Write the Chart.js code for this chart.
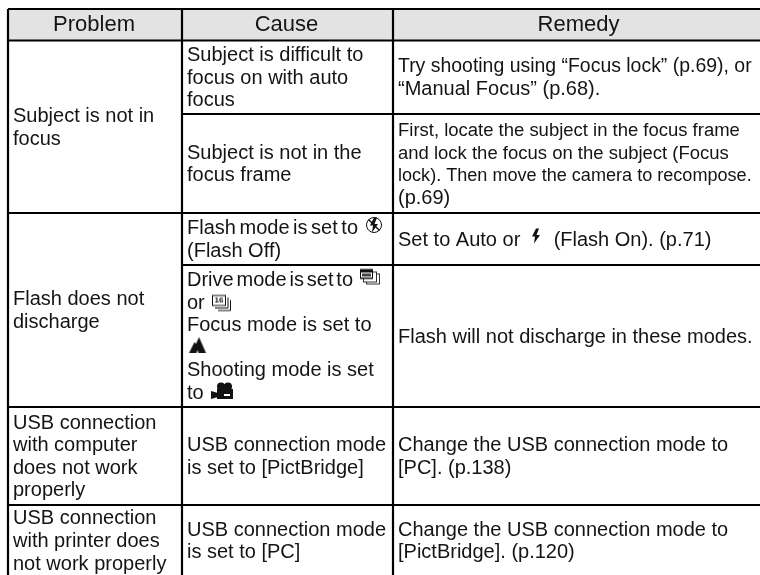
<!DOCTYPE html>
<html>
<head>
<meta charset="utf-8">
<style>
  html, body { margin: 0; padding: 0; background: #fff; }
  #wrap { width: 760px; height: 575px; }
</style>
<script src="https://cdn.jsdelivr.net/npm/chart.js@4/dist/chart.umd.js"></script>
</head>
<body>
<div id="wrap"><canvas id="tableChart"></canvas></div>
<script>
const columnNames = ["Problem", "Cause", "Remedy"];
const columnCentres = [94, 286.5, 578.5];
const colEdges = [8, 182, 393, 760];
const rowEdges = [9, 40.5, 114, 213, 265, 407, 505, 576];

// col, first row, last row (exclusive), lines
const problemCells = [
    [0, 1, 3, ["Subject is not in", "focus"]],
    [0, 3, 5, ["Flash does not", "discharge"]],
    [0, 5, 6, ["USB connection", "with computer", "does not work", "properly"]],
    [0, 6, 7, ["USB connection", "with printer does", "not work properly"]]
];
const causeCells = [
    [1, 1, 2, ["Subject is difficult to", "focus on with auto", "focus"]],
    [1, 2, 3, ["Subject is not in the", "focus frame"]],
    [1, 3, 4, ["Flash mode is set to", "(Flash Off)"]],
    [1, 4, 5, ["Drive mode is set to", "or", "Focus mode is set to", " ", "Shooting mode is set", "to"]],
    [1, 5, 6, ["USB connection mode", "is set to [PictBridge]"]],
    [1, 6, 7, ["USB connection mode", "is set to [PC]"]]
];
const remedyCells = [
    [2, 1, 2, ["Try shooting using “Focus lock” (p.69), or", "“Manual Focus” (p.68)."]],
    [2, 2, 3, ["First, locate the subject in the focus frame", "and lock the focus on the subject (Focus", "lock). Then move the camera to recompose.", "(p.69)"]],
    [2, 3, 4, ["Set to Auto or      (Flash On). (p.71)"]],
    [2, 4, 5, ["Flash will not discharge in these modes."]],
    [2, 5, 6, ["Change the USB connection mode to", "[PC]. (p.138)"]],
    [2, 6, 7, ["Change the USB connection mode to", "[PictBridge]. (p.120)"]]
];

// lines set smaller in the original, with their measured width
const smallLines = {
    "Try shooting using “Focus lock” (p.69), or": 354,
    "First, locate the subject in the focus frame": 342,
    "and lock the focus on the subject (Focus": 331,
    "lock). Then move the camera to recompose.": 354
};
// lines with squeezed word gaps, same idea
const squeezedLines = {
    "Flash mode is set to": 171,
    "Drive mode is set to": 166
};

// horizontal rules: row edge index, first column, last column (exclusive)
const hRules = [[0, 0, 3], [1, 0, 3], [2, 1, 3], [3, 0, 3], [4, 1, 3], [5, 0, 3], [6, 0, 3]];

// inline camera icons
const iconNames = ["flashOff", "drive", "drive16", "macro", "movie", "flashOn"];
const iconX = [374, 370, 222, 197.5, 222, 536];
const iconY = [225, 276.5, 303.5, 345, 391, 236];

function makeIcon(name) {
    const c = document.createElement("canvas");
    c.width = 28; c.height = 24;
    const g = c.getContext("2d");
    g.translate(14, 12);
    g.fillStyle = g.strokeStyle = "#111";
    g.lineWidth = 1;
    const bolt = () => {
        g.beginPath();
        g.moveTo(0, -7.5); g.lineTo(-4, 0.5); g.lineTo(-1, 0.5); g.lineTo(-2, 7.5);
        g.lineTo(4, -1); g.lineTo(0.5, -1); g.lineTo(3, -7.5);
        g.closePath(); g.fill();
    };
    if (name === "flashOn") {
        bolt();
    } else if (name === "flashOff") {
        g.beginPath(); g.arc(0, 0, 7.5, 0, Math.PI * 2); g.stroke();
        bolt();
        g.lineWidth = 1.4;
        g.beginPath(); g.moveTo(-5.5, -5.5); g.lineTo(5.5, 5.5); g.stroke();
    } else if (name === "drive") {
        g.strokeStyle = "#333";
        g.fillStyle = "#fff";
        g.fillRect(-3.5, -2.5, 13, 10); g.strokeRect(-3.5, -2.5, 13, 10);
        g.fillRect(-6.5, -4.5, 13, 10); g.strokeRect(-6.5, -4.5, 13, 10);
        g.fillStyle = "#111";
        g.fillRect(-10, -7.5, 13, 10);
        g.fillStyle = "#fff";
        g.fillRect(-9, -4, 11, 5);
        g.fillStyle = "#444";
        g.fillRect(-8, -3, 9, 3);
    } else if (name === "drive16") {
        g.strokeRect(-9.5, -8, 13, 10);
        g.beginPath();
        g.moveTo(6, -6); g.lineTo(6, 4.5); g.lineTo(-7, 4.5);
        g.moveTo(8.5, -3.5); g.lineTo(8.5, 7); g.lineTo(-4, 7);
        g.stroke();
        g.font = "bold 8px 'Liberation Sans'";
        g.textAlign = "center"; g.textBaseline = "middle";
        g.fillText("16", -3, -3);
    } else if (name === "macro") {
        g.beginPath();
        g.moveTo(-8.5, 8); g.lineTo(-3, -3); g.lineTo(-1.5, -1); g.lineTo(1.5, -8);
        g.lineTo(8.5, 8); g.lineTo(1, 8); g.lineTo(0, 5); g.lineTo(-1, 8); g.closePath(); g.fill();
    } else if (name === "movie") {
        g.beginPath(); g.arc(-1, -4.5, 4, 0, Math.PI * 2); g.arc(6, -4.5, 4, 0, Math.PI * 2); g.fill();
        g.fillRect(-5, -2, 16, 10);
        g.beginPath(); g.moveTo(-4, 2); g.lineTo(-11, 0); g.lineTo(-11, 8); g.lineTo(-4, 6); g.fill();
        g.fillStyle = "#fff";
        g.fillRect(2, 3, 6, 2);
    }
    return c;
}

// black rules as one broken line
const rulePoints = [];
hRules.forEach(([r, a, b]) => {
    rulePoints.push({ x: colEdges[a], y: rowEdges[r] }, { x: colEdges[b], y: rowEdges[r] }, { x: null, y: null });
});
colEdges.slice(0, 3).forEach(x => {
    rulePoints.push({ x: x, y: rowEdges[0] }, { x: x, y: rowEdges[7] }, { x: null, y: null });
});

const cellTextPlugin = {
    id: "cellText",
    afterDatasetsDraw(chart) {
        const { ctx, scales: { x, y } } = chart;
        ctx.save();
        ctx.fillStyle = "#141414";
        ctx.textBaseline = "alphabetic";

        ctx.font = "22px 'Liberation Sans'";
        ctx.textAlign = "center";
        columnNames.forEach((name, i) => {
            ctx.fillText(name, x.getPixelForValue(columnCentres[i]), y.getPixelForValue(31));
        });

        ctx.textAlign = "left";
        [...problemCells, ...causeCells, ...remedyCells].forEach(([col, r0, r1, lines]) => {
            const mid = (rowEdges[r0] + rowEdges[r1]) / 2;
            const top = mid - (lines.length - 1) * 22.6 / 2 + 6.5;
            lines.forEach((line, i) => {
                ctx.font = "20px 'Liberation Sans'";
                ctx.wordSpacing = "0px";
                if (smallLines[line]) {
                    const size = 20 * smallLines[line] / ctx.measureText(line).width;
                    ctx.font = size.toFixed(2) + "px 'Liberation Sans'";
                }
                if (squeezedLines[line]) {
                    const gaps = line.split(" ").length - 1;
                    const extra = (squeezedLines[line] - ctx.measureText(line).width) / gaps;
                    ctx.wordSpacing = extra.toFixed(2) + "px";
                }
                ctx.fillText(line, x.getPixelForValue(colEdges[col] + 5), y.getPixelForValue(top + i * 22.6));
            });
        });
        ctx.restore();
    }
};

new Chart(document.getElementById("tableChart"), {
    type: "scatter",
    data: {
        datasets: [
            {
                label: "header",
                data: [{ x: colEdges[0], y: rowEdges[0] }, { x: colEdges[3], y: rowEdges[0] }],
                showLine: true,
                pointRadius: 0,
                borderWidth: 0,
                backgroundColor: "#e3e3e3",
                fill: { value: rowEdges[1] },
                order: 3
            },
            {
                label: "rules",
                data: rulePoints,
                showLine: true,
                spanGaps: false,
                pointRadius: 0,
                borderColor: "#000",
                borderWidth: 2.2,
                order: 2
            },
            {
                label: "icons",
                data: iconX.map((v, i) => ({ x: v, y: iconY[i] })),
                showLine: false,
                pointStyle: iconNames.map(makeIcon),
                order: 1
            }
        ]
    },
    options: {
        responsive: true,
        maintainAspectRatio: false,
        animation: false,
        layout: { padding: 0, autoPadding: false },
        plugins: { legend: { display: false }, tooltip: { enabled: false } },
        scales: {
            x: { type: "linear", min: 0, max: 760, display: false },
            y: { type: "linear", min: 0, max: 575, reverse: true, display: false }
        }
    },
    plugins: [cellTextPlugin]
});
</script>
</body>
</html>
